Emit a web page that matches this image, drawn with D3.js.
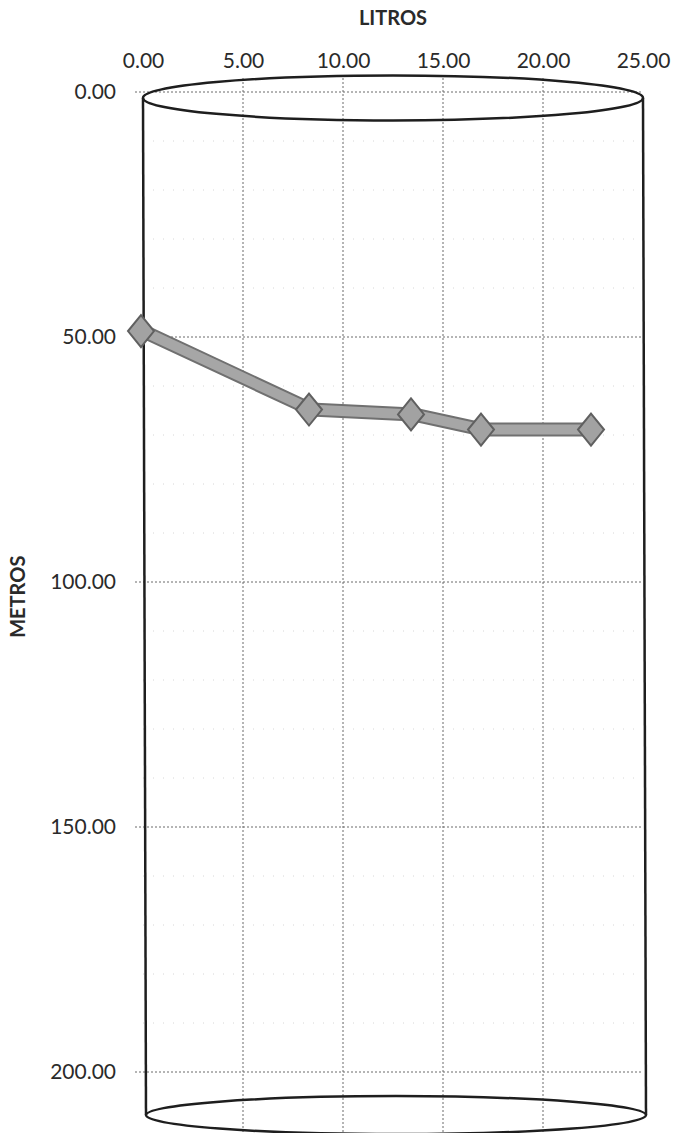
<!DOCTYPE html>
<html>
<head>
<meta charset="utf-8">
<script src="https://cdn.jsdelivr.net/npm/d3@7/dist/d3.min.js"></script>
<style>
  html, body { margin: 0; padding: 0; background: #fff; }
  svg { display: block; }
</style>
</head>
<body>
<div id="chart"></div>
<script>
// Data
const litros = [0, 8.4, 13.5, 17.0, 22.5];
const metros = [48.8, 64.8, 65.8, 68.9, 68.9];
const xTicks = [0, 5, 10, 15, 20, 25];
const yTicks = [0, 50, 100, 150, 200];
const yMinorTicks = [10, 20, 30, 40, 60, 70, 80, 90, 110, 120, 130, 140, 160, 170, 180, 190];
const xTitle = "LITROS";
const yTitle = "METROS";

const width = 673;
const height = 1133;
const fontFamily = "Lato, 'Open Sans', sans-serif";

/**
 * Diamond marker path, a bit taller than wide like the scanned one
 * @param {number} hw - half width
 * @param {number} hh - half height
 * @returns {string}
 */
function diamondPath(hw, hh) {
  return `M0,${-hh}L${hw},0L0,${hh}L${-hw},0Z`;
}

const svg = d3
  .select("#chart")
  .append("svg")
  .attr("width", width)
  .attr("height", height)
  .attr("viewBox", `0 0 ${width} ${height}`);

svg.append("rect").attr("width", width).attr("height", height).attr("fill", "#fff");

const x = d3.scaleLinear().domain([0, 25]).range([143, 643]);
const y = d3.scaleLinear().domain([0, 210]).range([92, 1121]);

// minor horizontal gridlines (very faint)
svg
  .append("g")
  .selectAll("line")
  .data(yMinorTicks)
  .join("line")
  .attr("x1", x(0))
  .attr("x2", x(25))
  .attr("y1", (d) => y(d))
  .attr("y2", (d) => y(d))
  .attr("stroke", "#d6d6d6")
  .attr("stroke-width", 1)
  .attr("stroke-dasharray", "1,9");

// major gridlines
svg
  .append("g")
  .selectAll("line")
  .data(xTicks.slice(1, -1))
  .join("line")
  .attr("x1", (d) => x(d))
  .attr("x2", (d) => x(d))
  .attr("y1", 78)
  .attr("y2", height)
  .attr("stroke", "#6a6a6a")
  .attr("stroke-width", 1)
  .attr("stroke-dasharray", "2,2");

svg
  .append("g")
  .selectAll("line")
  .data(yTicks)
  .join("line")
  .attr("x1", x(0) - 8)
  .attr("x2", x(25))
  .attr("y1", (d) => y(d))
  .attr("y2", (d) => y(d))
  .attr("stroke", "#6a6a6a")
  .attr("stroke-width", 1)
  .attr("stroke-dasharray", "2,2");

// axis labels
const axisX = d3
  .axisTop(x)
  .tickValues(xTicks)
  .tickFormat(d3.format(".2f"))
  .tickSize(0)
  .tickPadding(0);

svg
  .append("g")
  .attr("transform", "translate(0,68)")
  .call(axisX)
  .call((g) => g.select(".domain").remove())
  .selectAll("text")
  .attr("font-family", fontFamily)
  .attr("font-size", 21)
  .attr("fill", "#2a2a2a");

const axisY = d3
  .axisLeft(y)
  .tickValues(yTicks)
  .tickFormat(d3.format(".2f"))
  .tickSize(0)
  .tickPadding(0);

svg
  .append("g")
  .attr("transform", "translate(116,0)")
  .call(axisY)
  .call((g) => g.select(".domain").remove())
  .selectAll("text")
  .attr("font-family", fontFamily)
  .attr("font-size", 21)
  .attr("fill", "#2a2a2a");

svg
  .append("text")
  .attr("x", (x(0) + x(25)) / 2)
  .attr("y", 25)
  .attr("text-anchor", "middle")
  .attr("font-family", fontFamily)
  .attr("font-weight", "bold")
  .attr("font-size", 20)
  .attr("fill", "#2a2a2a")
  .text(xTitle);

svg
  .append("text")
  .attr("transform", `translate(25,${y(103)}) rotate(-90)`)
  .attr("text-anchor", "middle")
  .attr("font-family", fontFamily)
  .attr("font-weight", "bold")
  .attr("font-size", 20)
  .attr("fill", "#2a2a2a")
  .text(yTitle);

// cylinder outline drawn over the plot area
const cx = (x(0) + x(25)) / 2;
const rx = (x(25) - x(0)) / 2;
const topCy = y(1.2);
const bottomCy = y(208.8);
const cyl = svg
  .append("g")
  .attr("fill", "none")
  .attr("stroke", "#1e1e1e")
  .attr("stroke-width", 2.5);

cyl.append("ellipse").attr("cx", cx).attr("cy", topCy).attr("rx", rx).attr("ry", 22.5);
cyl.append("ellipse").attr("cx", cx + 3).attr("cy", bottomCy).attr("rx", rx).attr("ry", 19);
cyl
  .append("line")
  .attr("x1", x(0))
  .attr("x2", x(0) + 3)
  .attr("y1", topCy)
  .attr("y2", bottomCy);
cyl
  .append("line")
  .attr("x1", x(25))
  .attr("x2", x(25) + 3)
  .attr("y1", topCy)
  .attr("y2", bottomCy);

// series
const points = litros.map((v, i) => ({ litros: v, metros: metros[i] }));
const line = d3
  .line()
  .x((d) => x(d.litros))
  .y((d) => y(d.metros));

svg
  .append("path")
  .datum(points)
  .attr("d", line)
  .attr("fill", "none")
  .attr("stroke", "#707070")
  .attr("stroke-width", 14)
  .attr("stroke-linejoin", "round");

svg
  .append("path")
  .datum(points)
  .attr("d", line)
  .attr("fill", "none")
  .attr("stroke", "#a6a6a6")
  .attr("stroke-width", 10)
  .attr("stroke-linejoin", "round");

svg
  .append("g")
  .selectAll("path")
  .data(points)
  .join("path")
  .attr("transform", (d) => `translate(${x(d.litros) - 2},${y(d.metros)})`)
  .attr("d", diamondPath(13, 16))
  .attr("fill", "#a2a2a2")
  .attr("stroke", "#606060")
  .attr("stroke-width", 2);
</script>
</body>
</html>
